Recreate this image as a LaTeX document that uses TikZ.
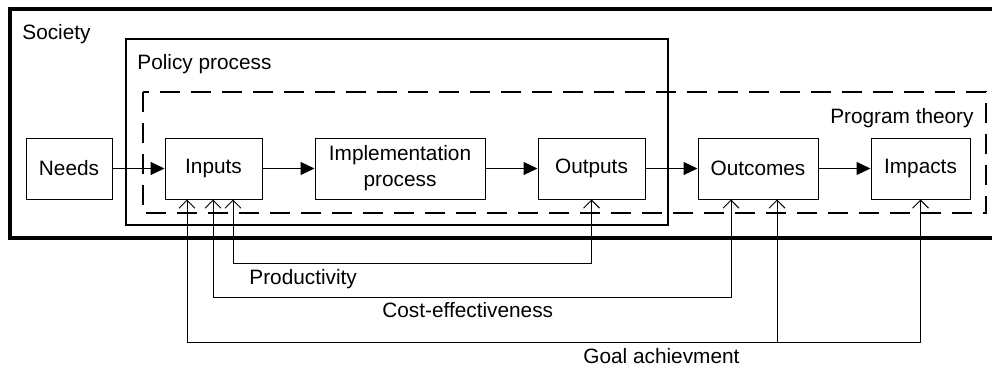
\documentclass[tikz,border=0pt]{standalone}
\usepackage{fontspec}
\setmainfont{Liberation Sans}
\usetikzlibrary{
    positioning,   % Relative positioning
    arrows.meta    % Modern arrow tips
}

\begin{document}
\begin{tikzpicture}[x=0.5pt, y=-0.5pt,
    font=\fontsize{10.4}{13}\selectfont,
    stage/.style={draw, line width=0.5pt, minimum height=30.5pt, align=center, inner sep=0pt},
    flow/.style={-{Triangle[length=7pt,width=6.5pt]}, line width=0.5pt},
    check/.style={{Straight Barb[length=4pt,width=8pt]}-{Straight Barb[length=4pt,width=8pt]}, line width=0.5pt},
    lbl/.style={anchor=base west, inner sep=0pt},
    node distance=26pt]
    \useasboundingbox (0,0) rectangle (992,370);

    % Frames: society, policy process, program theory
    \draw[line width=1.8pt] (1000,9) -- (10,9) -- (10,238) -- (1000,238);
    \draw[line width=0.8pt] (126,39) rectangle (668,225);
    \draw[line width=1.4pt, dash pattern=on 10pt off 5.5pt] (143,92) rectangle (986,213);
    \node[lbl] (society) at (22,39.5) {Society};
    \node[lbl] (policy) at (137,69) {Policy process};
    \node[lbl, anchor=base east] (theory) at (974,123) {Program theory};

    % Chain from needs to impacts
    \node[stage, minimum width=43pt] (needs) at (69,168.5) {Needs};
    \node[stage, minimum width=48.5pt, right=of needs] (inputs) {Inputs};
    \node[stage, minimum width=85pt, right=of inputs] (impl) {Implementation\\process};
    \node[stage, minimum width=53.5pt, right=of impl] (outputs) {Outputs};
    \node[stage, minimum width=60pt, right=of outputs] (outcomes) {Outcomes};
    \node[stage, minimum width=49.5pt, right=of outcomes] (impacts) {Impacts};
    \draw[flow] (needs) -- (inputs);
    \draw[flow] (inputs) -- (impl);
    \draw[flow] (impl) -- (outputs);
    \draw[flow] (outputs) -- (outcomes);
    \draw[flow] (outcomes) -- (impacts);

    % Evaluation criteria
    \draw[check] (inputs.south -| 233,0) -- (233,263) -| (outputs.south);
    \draw[check] (inputs.south -| 213,0) -- (213,297) -| (outcomes.south -| 731,0);
    \draw[check] (inputs.south -| 187,0) -- (187,342) -| (impacts.south);
    \draw[check, -{Straight Barb[length=4pt,width=8pt]}] (777,342) -- (outcomes.south -| 777,0);
    \node[lbl] (prod) at (249,284) {Productivity};
    \node[lbl] (cost) at (382,317) {Cost-effectiveness};
    \node[lbl] (goal) at (583,363) {Goal achievment};
\end{tikzpicture}
\end{document}
